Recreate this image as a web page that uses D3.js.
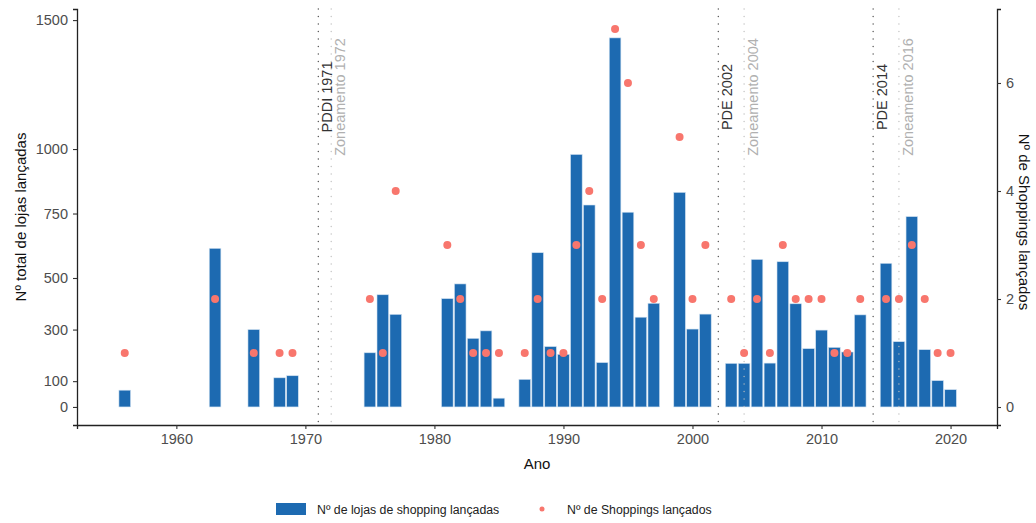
<!DOCTYPE html>
<html>
<head>
<meta charset="utf-8">
<script src="https://cdn.jsdelivr.net/npm/d3@7"></script>
<style>
  body { margin: 0; background: #fff; }
  svg { font-family: "Liberation Sans", Arial, sans-serif; }
</style>
</head>
<body>
<div id="chart"></div>
<script>
// Anos com lançamentos
const years = [1956, 1963, 1966, 1968, 1969, 1975, 1976, 1977, 1981, 1982, 1983, 1984, 1985,
    1987, 1988, 1989, 1990, 1991, 1992, 1993, 1994, 1995, 1996, 1997, 1999, 2000, 2001,
    2003, 2004, 2005, 2006, 2007, 2008, 2009, 2010, 2011, 2012, 2013,
    2015, 2016, 2017, 2018, 2019, 2020];

// Nº de lojas de shopping lançadas (barras)
const lojas = [65, 615, 300, 113, 121, 210, 435, 359, 420, 477, 266, 295, 34,
    107, 598, 234, 204, 979, 783, 172, 1431, 755, 348, 402, 832, 302, 360,
    169, 169, 572, 170, 563, 400, 226, 298, 231, 213, 357,
    557, 253, 738, 222, 102, 67];

// Nº de Shoppings lançados (pontos)
const shoppings = [1, 2, 1, 1, 1, 2, 1, 4, 3, 2, 1, 1, 1,
    1, 2, 1, 1, 3, 4, 2, 7, 6, 3, 2, 5, 2, 3,
    2, 1, 2, 1, 3, 2, 2, 2, 1, 1, 2,
    2, 2, 3, 2, 1, 1];

// Marcos legais
const markYears = [1971, 1972, 2002, 2004, 2014, 2016];
const markLabels = ["PDDI 1971", "Zoneamento 1972", "PDE 2002", "Zoneamento 2004", "PDE 2014", "Zoneamento 2016"];
const markZoning = [false, true, false, true, false, true];

// Ticks
const xTicks = [1960, 1970, 1980, 1990, 2000, 2010, 2020];
const yLeftTicks = [0, 100, 300, 500, 750, 1000, 1500];
const yRightTicks = [0, 2, 4, 6];

const data = years.map((y, i) => ({ year: y, lojas: lojas[i], shoppings: shoppings[i] }));
const marks = markYears.map((y, i) => ({ year: y, label: markLabels[i], zoning: markZoning[i] }));

const W = 1036, H = 523;
const margin = { top: 9, right: 39, bottom: 98, left: 77 };
const width = W - margin.left - margin.right;
const height = H - margin.top - margin.bottom;

const barColor = "#1d6ab1";
const dotColor = "#f8766d";

const svg = d3.select("#chart").append("svg")
    .attr("width", W)
    .attr("height", H);

const g = svg.append("g").attr("transform", `translate(${margin.left},${margin.top})`);

const x = d3.scaleLinear().domain([1952.3, 2023.6]).range([0, width]);
const yL = d3.scaleLinear().domain([-70, 1543]).range([height, 0]);
const yR = d3.scaleLinear().domain([-0.333, 7.37]).range([height, 0]);

const bw = x(1960.9) - x(1960);

// Barras
g.selectAll(".bar")
    .data(data)
    .enter()
    .append("rect")
    .attr("class", "bar")
    .attr("x", d => x(d.year) - bw / 2)
    .attr("y", d => yL(d.lojas))
    .attr("width", bw)
    .attr("height", d => yL(0) - yL(d.lojas))
    .attr("fill", barColor)
    .attr("stroke", "#cfe0f0")
    .attr("stroke-width", 0.6);

// Linhas verticais dos marcos
g.selectAll(".mark")
    .data(marks)
    .enter()
    .append("line")
    .attr("x1", d => x(d.year))
    .attr("x2", d => x(d.year))
    .attr("y1", 0)
    .attr("y2", height)
    .attr("stroke", d => d.zoning ? "#bdbdbd" : "#444")
    .attr("stroke-width", 1.3)
    .attr("stroke-linecap", "round")
    .attr("stroke-dasharray", "0.1,7.4");

g.selectAll(".mark-label")
    .data(marks)
    .enter()
    .append("text")
    .attr("transform", d => `translate(${x(d.year) + 14},88) rotate(-90)`)
    .attr("text-anchor", "middle")
    .attr("font-size", 14.5)
    .attr("fill", d => d.zoning ? "#b0b0b0" : "#333")
    .text(d => d.label);

// Pontos
g.selectAll(".dot")
    .data(data)
    .enter()
    .append("circle")
    .attr("cx", d => x(d.year))
    .attr("cy", d => yR(d.shoppings))
    .attr("r", 4)
    .attr("fill", dotColor);

// Eixos
function styleAxis(sel) {
    sel.select(".domain").attr("stroke", "#222").attr("stroke-width", 1.3);
    sel.selectAll(".tick line").attr("stroke", "#333").attr("stroke-width", 1.1);
    sel.selectAll(".tick text").attr("fill", "#4d4d4d").attr("font-size", 14.5)
        .attr("font-family", "Liberation Sans, Arial, sans-serif");
}

g.append("g")
    .attr("transform", `translate(0,${height})`)
    .call(d3.axisBottom(x).tickValues(xTicks).tickFormat(d3.format("d")).tickSizeOuter(0).tickSize(4).tickPadding(5))
    .call(styleAxis);

g.append("g")
    .call(d3.axisLeft(yL).tickValues(yLeftTicks).tickFormat(d3.format("d")).tickSizeOuter(0).tickSize(4).tickPadding(5))
    .call(styleAxis);

g.append("g")
    .attr("transform", `translate(${width},0)`)
    .call(d3.axisRight(yR).tickValues(yRightTicks).tickFormat(d3.format("d")).tickSizeOuter(0).tickSize(4).tickPadding(5))
    .call(styleAxis);

// Títulos dos eixos
svg.append("text")
    .attr("x", margin.left + width / 2)
    .attr("y", 469)
    .attr("text-anchor", "middle")
    .attr("font-size", 15)
    .attr("fill", "#111")
    .text("Ano");

svg.append("text")
    .attr("transform", `translate(26,${margin.top + height / 2}) rotate(-90)`)
    .attr("text-anchor", "middle")
    .attr("font-size", 15)
    .attr("fill", "#111")
    .text("Nº total de lojas lançadas");

svg.append("text")
    .attr("transform", `translate(1019,${margin.top + height / 2 + 5}) rotate(90)`)
    .attr("text-anchor", "middle")
    .attr("font-size", 15)
    .attr("fill", "#111")
    .text("Nº de Shoppings lançados");

// Legenda
const legend = svg.append("g").attr("transform", "translate(276,503)");
legend.append("rect")
    .attr("width", 30)
    .attr("height", 12)
    .attr("fill", barColor);
legend.append("text")
    .attr("x", 41)
    .attr("y", 10.5)
    .attr("font-size", 12.3)
    .attr("fill", "#222")
    .text("Nº de lojas de shopping lançadas");
legend.append("circle")
    .attr("cx", 266)
    .attr("cy", 6)
    .attr("r", 2.5)
    .attr("fill", dotColor);
legend.append("text")
    .attr("x", 291)
    .attr("y", 10.5)
    .attr("font-size", 12.3)
    .attr("fill", "#222")
    .text("Nº de Shoppings lançados");
</script>
</body>
</html>
